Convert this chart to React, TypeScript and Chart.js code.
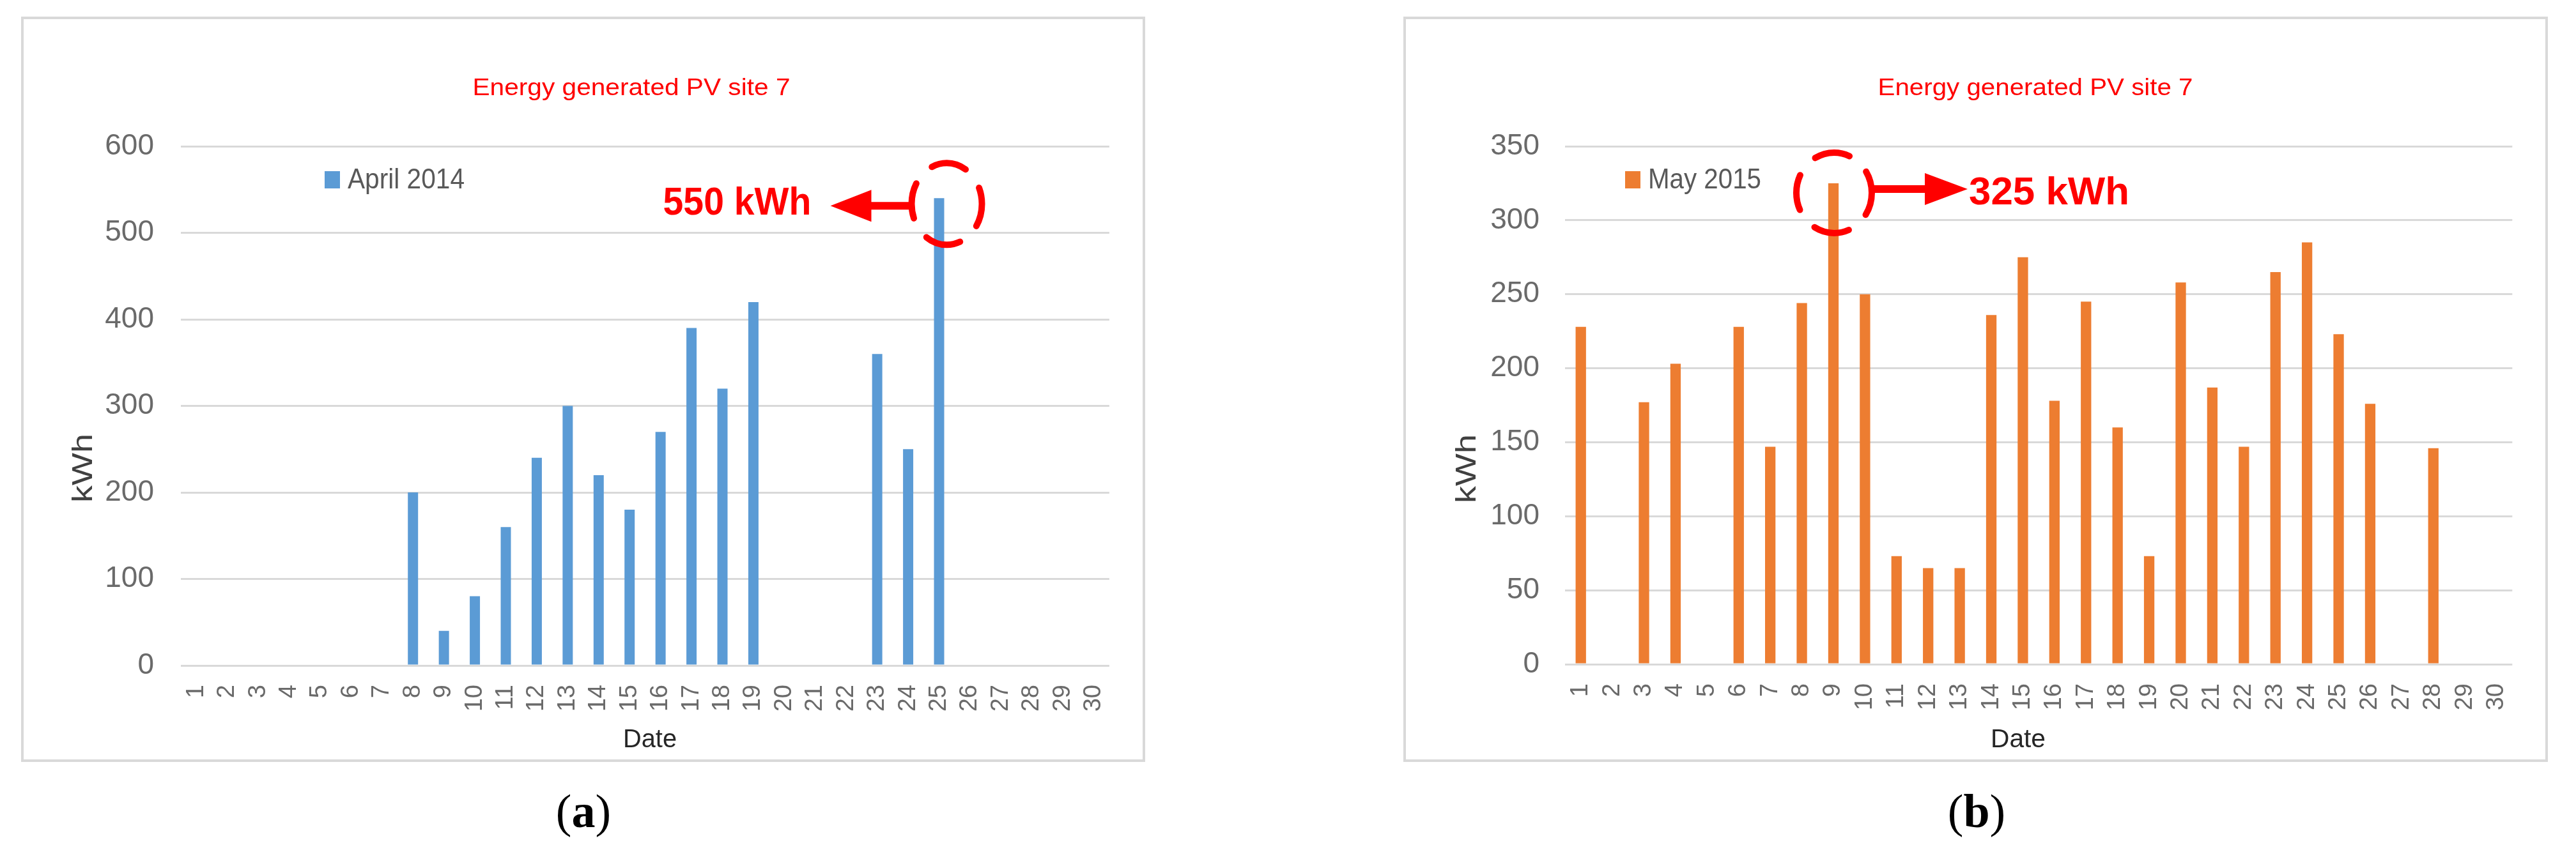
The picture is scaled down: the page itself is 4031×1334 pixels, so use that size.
import React, { useEffect, useRef } from 'react';
import { Chart, registerables } from 'chart.js';

Chart.register(...registerables);

// ---------- data ----------
const dayLabels = ['1','2','3','4','5','6','7','8','9','10','11','12','13','14','15','16','17','18','19','20','21','22','23','24','25','26','27','28','29','30'];
const aprilValues = [0,0,0,0,0,0,0,200,40,80,160,240,300,220,180,270,390,320,420,0,0,0,360,250,540,0,0,0,0,0];
const mayValues = [228,0,177,203,0,228,147,244,325,250,73,65,65,236,275,178,245,160,73,258,187,147,265,285,223,176,0,146,0,0];
const aprilLegend = 'April 2014';
const mayLegend = 'May 2015';
const chartTitle = 'Energy generated PV site 7';
const aprilPeakLabel = '550 kWh';
const mayPeakLabel = '325 kWh';
const aprilPeakIndex = 24;
const mayPeakIndex = 8;

const SANS = '"Liberation Sans", Arial, sans-serif';
const NARROW = '"Liberation Sans Narrow", "Liberation Sans", Arial, sans-serif';

type Panel = {
  labels: string[]; values: number[]; legend: string; color: string; yMax: number; yStep: number;
  canvasW: number; canvasH: number; padTop: number; padRight: number; yWidth: number; xHeight: number; yTickPad: number;
  titleX: number; titleBase: number; titleW: number;
  legX: number; legY: number; legTextW: number;
  kwhX: number; kwhY: number; dateX: number; dateBase: number; dateW: number;
  peakIndex: number; peakLabel: string; circleDx: number; circleDy: number; rx: number; ry: number;
  dir: number; arrowDy: number; headBase: number; tip: number; textOff: number; textDy: number; textW: number;
};

function fitText(ctx: CanvasRenderingContext2D, text: string, x: number, y: number, font: string, color: string, targetW: number, align: string, baseline: CanvasTextBaseline = 'alphabetic') {
  ctx.save();
  ctx.font = font;
  ctx.fillStyle = color;
  ctx.textAlign = 'left';
  ctx.textBaseline = baseline;
  const w = ctx.measureText(text).width || 1;
  const sx = targetW / w;
  const x0 = align === 'left' ? x : align === 'center' ? x - targetW / 2 : x - targetW;
  ctx.translate(x0, y);
  ctx.scale(sx, 1);
  ctx.fillText(text, 0, 0);
  ctx.restore();
}

function makeDecor(p: Panel) {
  return {
    id: 'decor',
    afterDraw(chart: any) {
      const ctx: CanvasRenderingContext2D = chart.ctx;
      const xs = chart.scales.x;
      const ys = chart.scales.y;
      // title
      fitText(ctx, chartTitle, p.titleX, p.titleBase, `37px ${SANS}`, '#ff0000', p.titleW, 'center');
      // legend
      ctx.save();
      ctx.fillStyle = p.color;
      ctx.fillRect(p.legX, p.legY, 24, 27);
      ctx.restore();
      fitText(ctx, p.legend, p.legX + 36, p.legY + 27, `44px ${SANS}`, '#595959', p.legTextW, 'left');
      // y axis title
      ctx.save();
      ctx.translate(p.kwhX, p.kwhY);
      ctx.rotate(-Math.PI / 2);
      fitText(ctx, 'kWh', 0, 0, `45px ${SANS}`, '#404040', 108, 'center', 'middle');
      ctx.restore();
      // x axis title
      fitText(ctx, 'Date', p.dateX, p.dateBase, `41px ${SANS}`, '#262626', p.dateW, 'center');
      // annotation
      const bx = xs.getPixelForValue(p.peakIndex);
      const by = ys.getPixelForValue(p.values[p.peakIndex]);
      const cx = bx + p.circleDx;
      const cy = by + p.circleDy;
      ctx.save();
      ctx.strokeStyle = '#ff0000';
      ctx.fillStyle = '#ff0000';
      ctx.lineWidth = 10;
      ctx.lineCap = 'round';
      ctx.setLineDash([56, 36]);
      ctx.lineDashOffset = 20;
      ctx.beginPath();
      ctx.ellipse(cx, cy, p.rx, p.ry, 0, 0, Math.PI * 2);
      ctx.stroke();
      ctx.setLineDash([]);
      const ay = cy + p.arrowDy;
      ctx.lineWidth = 12;
      ctx.lineCap = 'butt';
      ctx.beginPath();
      ctx.moveTo(cx + p.dir * (p.rx - 4), ay);
      ctx.lineTo(cx + p.dir * (p.headBase + 2), ay);
      ctx.stroke();
      ctx.beginPath();
      ctx.moveTo(cx + p.dir * p.headBase, ay - 25);
      ctx.lineTo(cx + p.dir * p.tip, ay);
      ctx.lineTo(cx + p.dir * p.headBase, ay + 25);
      ctx.closePath();
      ctx.fill();
      ctx.restore();
      fitText(ctx, p.peakLabel, cx + p.dir * p.textOff, cy + p.textDy, `bold 62px ${SANS}`, '#ff0000', p.textW, p.dir > 0 ? 'left' : 'right');
    },
  };
}

const aprilPanel: Panel = {
  labels: dayLabels, values: aprilValues, legend: aprilLegend, color: '#5b9bd5', yMax: 600, yStep: 100,
  canvasW: 1751, canvasH: 1159, padTop: 199, padRight: 44, yWidth: 246, xHeight: 147, yTickPad: 42,
  titleX: 951, titleBase: 119, titleW: 497,
  legX: 471, legY: 238, legTextW: 183,
  kwhX: 95, kwhY: 703, dateX: 980, dateBase: 1140, dateW: 84,
  peakIndex: aprilPeakIndex, peakLabel: aprilPeakLabel, circleDx: 12, circleDy: 9, rx: 55, ry: 64,
  dir: -1, arrowDy: 3, headBase: 118, tip: 182, textOff: 212, textDy: 17, textW: 232,
};

const mayPanel: Panel = {
  labels: dayLabels, values: mayValues, legend: mayLegend, color: '#ed7d31', yMax: 350, yStep: 50,
  canvasW: 1783, canvasH: 1159, padTop: 199, padRight: 48, yWidth: 249, xHeight: 149, yTickPad: 40,
  titleX: 985, titleBase: 119, titleW: 493,
  legX: 343, legY: 238, legTextW: 177,
  kwhX: 97, kwhY: 704, dateX: 958, dateBase: 1140, dateW: 86,
  peakIndex: mayPeakIndex, peakLabel: mayPeakLabel, circleDx: 1, circleDy: 15, rx: 59, ry: 63,
  dir: 1, arrowDy: -6, headBase: 142, tip: 209, textOff: 211, textDy: 18, textW: 251,
};

function PanelChart({ p }: { p: Panel }) {
  const ref = useRef<HTMLCanvasElement | null>(null);
  useEffect(() => {
    if (!ref.current) return;
    const chart = new Chart(ref.current, {
      type: 'bar',
      data: {
        labels: p.labels,
        datasets: [{
          label: p.legend,
          data: p.values,
          backgroundColor: p.color,
          borderWidth: 0,
          barPercentage: 0.33,
          categoryPercentage: 1,
        }],
      },
      options: {
        animation: false,
        responsive: false,
        devicePixelRatio: 1,
        layout: { padding: { left: 0, right: p.padRight, top: p.padTop, bottom: 0 } },
        plugins: { legend: { display: false }, title: { display: false }, tooltip: { enabled: false } },
        scales: {
          x: {
            grid: { display: false, drawTicks: false },
            border: { display: false },
            ticks: {
              autoSkip: false, maxRotation: 90, minRotation: 90, padding: 30,
              color: '#6a6a6a', font: { family: SANS, size: 38 },
            },
            afterFit: (s: any) => { s.height = p.xHeight; },
          },
          y: {
            min: 0, max: p.yMax,
            ticks: { stepSize: p.yStep, padding: p.yTickPad, color: '#6a6a6a', font: { family: NARROW, size: 46 } },
            grid: { color: '#d9d9d9', lineWidth: 3, drawTicks: false },
            border: { display: false },
            afterFit: (s: any) => { s.width = p.yWidth; },
          },
        },
      } as any,
      plugins: [makeDecor(p)],
    });
    return () => chart.destroy();
  }, [p]);
  return <canvas ref={ref} width={p.canvasW} height={p.canvasH} style={{ width: p.canvasW, height: p.canvasH, display: 'block' }} />;
}

const boxStyle = (left: number, width: number): React.CSSProperties => ({
  position: 'absolute', left, top: 26, width, height: 1167, border: '4px solid #d9d9d9', boxSizing: 'border-box', background: '#fff',
});

const capStyle = (cx: number): React.CSSProperties => ({
  position: 'absolute', left: cx - 100, width: 200, top: 1232, textAlign: 'center',
  fontFamily: '"Liberation Serif", "Times New Roman", serif', fontSize: 74, lineHeight: '76px', color: '#000',
});

export default function App() {
  return (
    <div style={{ position: 'absolute', left: 0, top: 0, width: 4031, height: 1334, background: '#fff', overflow: 'hidden' }}>
      <div style={boxStyle(33, 1759)}><PanelChart p={aprilPanel} /></div>
      <div style={boxStyle(2196, 1791)}><PanelChart p={mayPanel} /></div>
      <div style={capStyle(913)}>(<b>a</b>)</div>
      <div style={capStyle(3093)}>(<b>b</b>)</div>
    </div>
  );
}
